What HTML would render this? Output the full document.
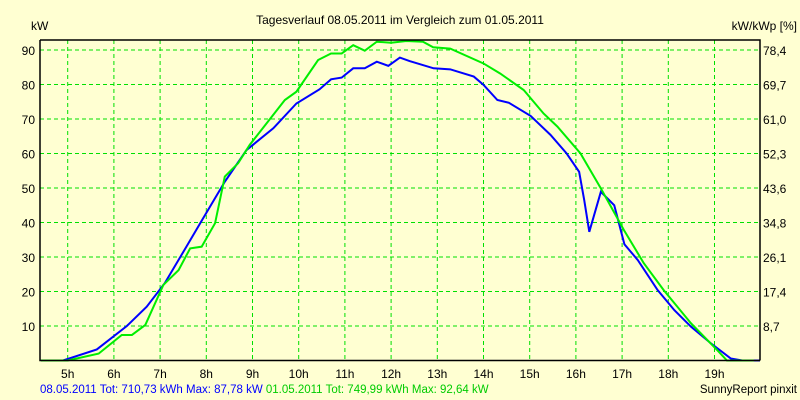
<!DOCTYPE html>
<html><head><meta charset="utf-8"><style>
body{margin:0;background:#ffffd2;}
svg{display:block;font-family:"Liberation Sans",sans-serif;font-size:12px;}
</style></head><body>
<svg width="800" height="400">
<rect width="800" height="400" fill="#ffffd2"/>
<text x="400" y="24" text-anchor="middle">Tagesverlauf 08.05.2011 im Vergleich zum 01.05.2011</text>
<text x="31" y="30">kW</text>
<text x="797" y="30" text-anchor="end">kW/kWp [%]</text>
<g id="grid"></g><g id="series"></g><g id="axes"></g>
<text x="40" y="393" fill="#0000ff" font-size="11.5">08.05.2011 Tot: 710,73 kWh Max: 87,78 kW <tspan fill="#00cc00">01.05.2011 Tot: 749,99 kWh Max: 92,64 kW</tspan></text>
<text x="797" y="393" text-anchor="end" font-size="11.5">SunnyReport pinxit</text>
</svg>
<script>
const hours=[5,6,7,8,9,10,11,12,13,14,15,16,17,18,19];
const yTicks=[10,20,30,40,50,60,70,80,90];
const y2Labels=["8,7","17,4","26,1","34,8","43,6","52,3","61,0","69,7","78,4"];
const blueT=[4.42,4.9,5.63,6.28,6.71,7.1,7.57,7.93,8.4,8.87,9.45,9.95,10.45,10.7,10.93,11.18,11.43,11.69,11.94,12.19,12.4,12.92,13.28,13.79,14.0,14.3,14.55,15.02,15.45,15.8,16.07,16.18,16.29,16.54,16.83,17.05,17.34,17.77,18.13,18.49,18.92,19.35,19.6,20.0];
const blueV=[0,0,3.2,10,15.6,22.4,33,41.2,51.8,61,67.3,74.5,78.6,81.5,82,84.7,84.7,86.6,85.4,87.8,86.8,84.7,84.4,82.3,79.9,75.5,74.7,70.9,65.4,60,54.7,46.5,37.3,48.9,45,33.7,29.1,20.4,14.6,9.8,5,0.6,0,0];
const greenT=[4.42,5,5.67,6.17,6.39,6.68,7.07,7.4,7.65,7.9,8.19,8.4,8.69,8.94,9.7,9.95,10.42,10.7,10.93,11.18,11.43,11.69,12.0,12.33,12.69,12.91,13.28,14.0,14.36,14.87,15.3,15.6,16.1,16.54,17.04,17.47,17.9,18.49,19.06,19.27,19.85];
const greenV=[0,0,2,7.4,7.4,10.3,21.9,26.2,32.5,33,39.8,53.3,57.2,62.5,75.5,77.9,87.1,89,89,91.4,89.8,92.4,92.1,92.6,92.4,90.8,90.4,86.1,83.2,78.4,71.6,67.8,60,49.9,37.8,28.2,20.4,10.8,3,0,0];
const L=40,R=760,T=40,B=360.5;
const X=h=>67.7+(h-5)*46.2;
const Y=v=>B-v*3.45;
const NS="http://www.w3.org/2000/svg";
function mk(tag,parent){const e=document.createElementNS(NS,tag);document.getElementById(parent).appendChild(e);return e;}
hours.forEach(h=>{
 const l=mk('line','grid');
 
 
 l.setAttribute('x1',X(h));l.setAttribute('x2',X(h));l.setAttribute('y1',T);l.setAttribute('y2',B);
 l.setAttribute('stroke','#00e000');l.setAttribute('stroke-dasharray','4,3');
 const t=mk('text','axes');
 
 
 t.setAttribute('x',X(h));t.setAttribute('y',378);t.setAttribute('text-anchor','middle');t.textContent=h+'h';
});
yTicks.forEach((v,i)=>{
 const l=mk('line','grid');
 
 
 l.setAttribute('x1',L);l.setAttribute('x2',R);l.setAttribute('y1',Y(v));l.setAttribute('y2',Y(v));
 l.setAttribute('stroke','#00e000');l.setAttribute('stroke-dasharray','4,3');
 const t=mk('text','axes');
 
 
 t.setAttribute('x',35);t.setAttribute('y',Y(v)+5);t.setAttribute('text-anchor','end');t.textContent=v;
 const t2=mk('text','axes');
 
 
 t2.setAttribute('x',763);t2.setAttribute('y',Y(v)+5);t2.textContent=y2Labels[i];
});
function line(ts,vs,col,name){
 const p=mk('polyline','series');
 
 
 p.setAttribute('points',ts.map((t,i)=>Math.min(X(t),R)+','+Y(vs[i])).join(' '));
 p.setAttribute('fill','none');p.setAttribute('stroke',col);p.setAttribute('stroke-width','2');
}
line(blueT,blueV,'#0000ff','series-08-05');
line(greenT,greenV,'#00ee00','series-01-05');
const ax=mk('path','axes');


ax.setAttribute('d',`M${L},${T}H${R}V${B}M${L},${T}V${B}H${R}`);
ax.setAttribute('stroke','#000');ax.setAttribute('fill','none');ax.setAttribute('stroke-width','1.5');
</script>
</body></html>
